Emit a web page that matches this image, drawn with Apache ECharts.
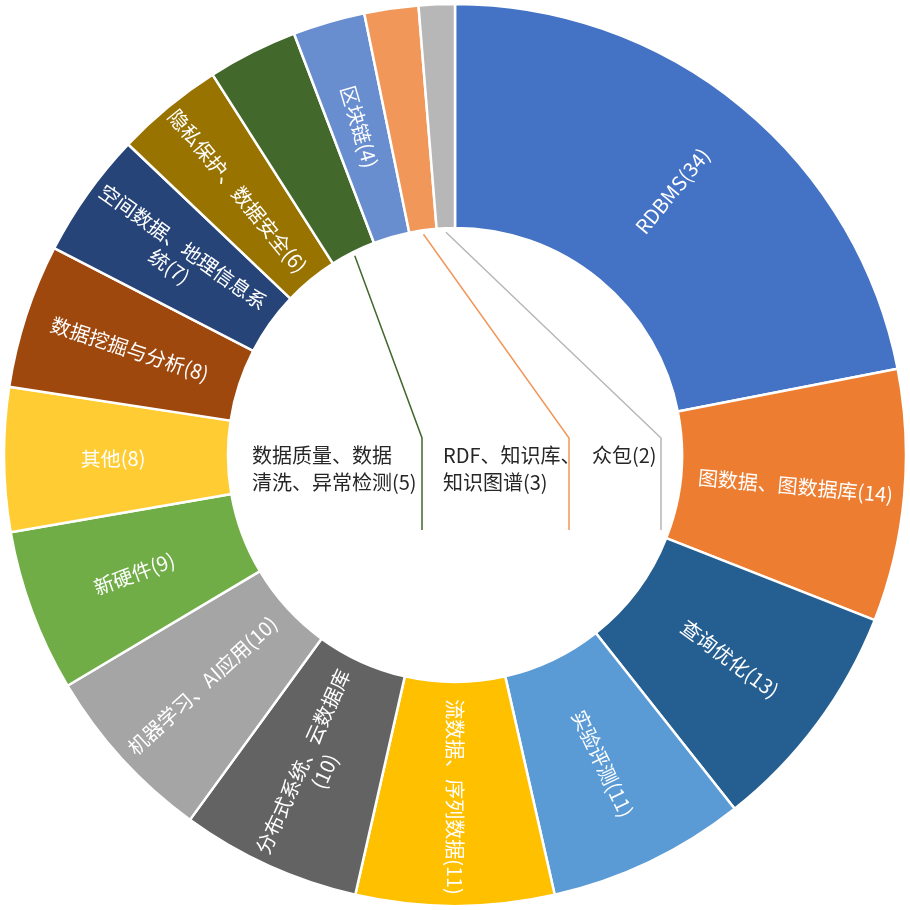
<!DOCTYPE html>
<html>
<head>
<meta charset="utf-8">
<script src="https://cdn.jsdelivr.net/npm/echarts@6/dist/echarts.min.js"></script>
<style>
  html, body { margin: 0; background: #fff; }
  #chart { width: 910px; height: 910px; }
</style>
</head>
<body>
<div id="chart"></div>
<script>
// topics, clockwise from 12 o'clock
const categories = [
  'RDBMS', '图数据、图数据库', '查询优化', '实验评测', '流数据、序列数据',
  '分布式系统、云数据库\n', '机器学习、AI应用', '新硬件', '其他', '数据挖掘与分析',
  '空间数据、地理信息系\n统', '隐私保护、数据安全', '数据质量、数据\n清洗、异常检测',
  '区块链', 'RDF、知识库、\n知识图谱', '众包'
]
const counts = [34, 14, 13, 11, 11, 10, 10, 9, 8, 8, 7, 6, 5, 4, 3, 2]
const colors = [
  '#4472C4', '#ED7D31', '#255E91', '#5B9BD5', '#FFC000',
  '#636363', '#A5A5A5', '#70AD47', '#FFCD33', '#9E480E',
  '#264478', '#997300', '#43682B', '#698ED0', '#F1975A', '#B7B7B7'
]
// small slices whose labels sit in the hole: label left edge, vertical line x
const callouts = {
  12: { left: 252, lineX: 422 },
  14: { left: 443, lineX: 569 },
  15: { left: 592, lineX: 661 }
}

const center = [455, 455]
const innerR = 227
const outerR = 451

const chart = echarts.init(document.getElementById('chart'))

const seriesData = categories.map((name, i) => {
  const item = {
    name: name,
    value: counts[i],
    itemStyle: { color: colors[i] }
  }
  if (callouts[i]) {
    item.label = {
      position: 'outside',
      rotate: 0,
      color: '#262626',
      fontSize: 20,
      lineHeight: 27
    }
    item.labelLine = { show: true, length: 10, length2: 10, lineStyle: { width: 1.5 } }
  }
  return item
})

const options = {
  animation: false,
  series: [
    {
      type: 'pie',
      center: center,
      radius: [innerR, outerR],
      startAngle: 90,
      clockwise: true,
      avoidLabelOverlap: false,
      itemStyle: {
        borderColor: '#fff',
        borderWidth: 2.5
      },
      label: {
        show: true,
        position: 'inside',
        rotate: 'radial',
        color: '#fff',
        fontSize: 20,
        lineHeight: 24,
        fontFamily: 'Noto Sans CJK SC',
        formatter: (p) => p.name + '(' + p.value + ')'
      },
      labelLayout: (params) => {
        const c = callouts[params.dataIndex]
        if (!c || !params.labelLinePoints) return {}
        const p0 = params.labelLinePoints[0]
        const dx = p0[0] - center[0]
        const dy = p0[1] - center[1]
        const len = Math.sqrt(dx * dx + dy * dy)
        const start = [center[0] + dx / len * (innerR - 4), center[1] + dy / len * (innerR - 4)]
        return {
          x: c.left,
          y: 442,
          align: 'left',
          verticalAlign: 'top',
          labelLinePoints: [start, [c.lineX, 438], [c.lineX, 530]]
        }
      },
      data: seriesData
    }
  ]
}
chart.setOption(options)
</script>
</body>
</html>
